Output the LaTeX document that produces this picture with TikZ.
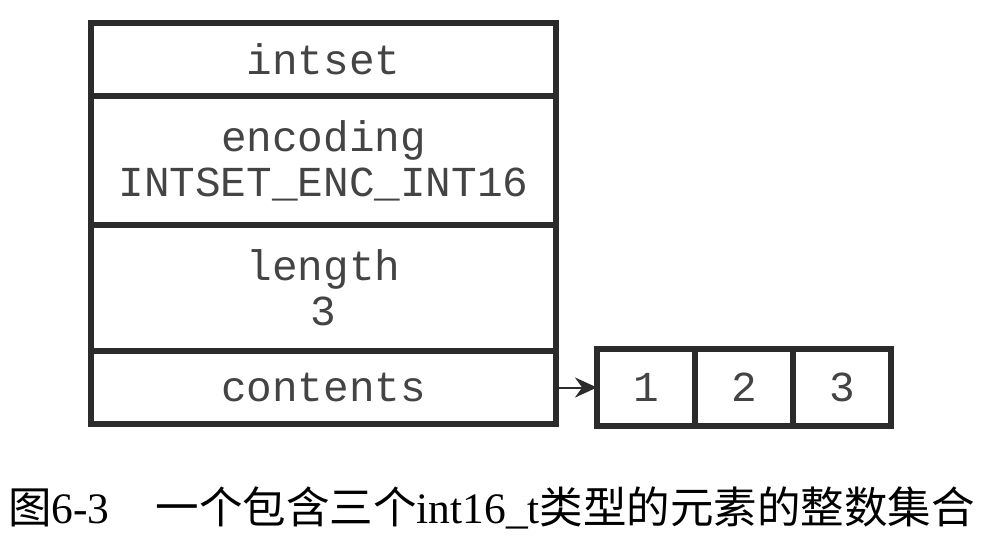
\documentclass[tikz,border=0pt]{standalone}
\usepackage{fontspec}
\setmainfont{Liberation Serif}
\setmonofont{Liberation Mono}
\newfontfamily\cjk{Noto Sans CJK SC}
\usetikzlibrary{arrows.meta}
\definecolor{boxline}{HTML}{2B2B2B}
\definecolor{boxtext}{HTML}{444444}
\tikzset{
  cell/.style={draw=boxline, line width=5.5pt, rectangle, inner sep=0pt, outer sep=0pt,
    minimum width=465pt, text=boxtext, align=center,
    font=\fontsize{42.7}{45}\selectfont\ttfamily},
  elem/.style={draw=boxline, line width=5.5pt, rectangle, inner sep=0pt, outer sep=0pt,
    minimum width=98pt, minimum height=77pt, text=boxtext,
    font=\fontsize{42.7}{45}\selectfont\ttfamily},
  link/.style={draw=boxline, line width=2pt, -{Stealth[length=22pt,width=20pt]}},
  caption/.style={inner sep=0pt, anchor=west, font=\fontsize{43.5}{48}\selectfont}
}
\begin{document}
\begin{tikzpicture}[x=1pt,y=-1pt]
\useasboundingbox (0,0) rectangle (986,544);
\node[cell, minimum height=73pt]  (intset)   at (323.5,59.5)  {intset};
\node[cell, minimum height=129pt] (encoding) at (323.5,160.5) {encoding\\INTSET\_ENC\_INT16};
\node[cell, minimum height=126pt] (length)   at (323.5,288)   {length\\3};
\node[cell, minimum height=73pt]  (contents) at (323.5,387.5) {contents};
\node[elem] (e1) at (646,387.5) {1};
\node[elem] (e2) at (744,387.5) {2};
\node[elem] (e3) at (842,387.5) {3};
\draw[link] (contents.east) -- (e1.west);
\node[caption] (cap) at (8,508) {{\cjk 图}6-3\hspace{46pt}{\cjk 一个包含三个}int16\_t{\cjk 类型的元素的整数集合}};
\end{tikzpicture}
\end{document}
